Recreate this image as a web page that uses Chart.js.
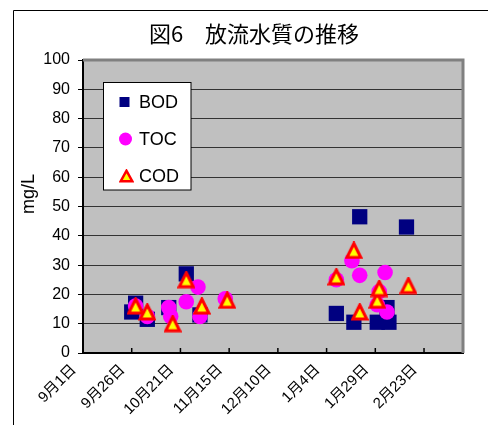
<!DOCTYPE html>
<html>
<head>
<meta charset="utf-8">
<script src="https://cdn.jsdelivr.net/npm/chart.js@4.4.0/dist/chart.umd.min.js"></script>
<style>
  html, body { margin: 0; padding: 0; background: #fff; }
  canvas { display: block; }
</style>
</head>
<body>
<canvas id="chart" width="488" height="425"></canvas>
<script>
// ---- data ----
const titleText = '図6　放流水質の推移';
const yAxisTitle = 'mg/L';
const tickDates  = ['9/1', '9/26', '10/21', '11/15', '12/10', '1/4', '1/29', '2/23'];
const tickLabels = ['9月1日', '9月26日', '10月21日', '11月15日', '12月10日', '1月4日', '1月29日', '2月23日'];
const axisEndDate = '3/15';

const bodDates  = ['9/26', '9/28', '10/4', '10/15', '10/24', '10/31', '1/9', '1/18', '1/21', '1/30', '2/4', '2/5', '2/14'];
const bodValues = [14, 17, 11.5, 15.5, 27, 13, 13.5, 10.5, 46.5, 10.5, 15.5, 10.5, 43];

const tocDates  = ['9/28', '10/4', '10/15', '10/16', '10/24', '10/30', '10/31', '11/13', '1/9', '1/17', '1/21', '1/30', '1/31', '2/3', '2/4'];
const tocValues = [16, 12.5, 15.5, 12.5, 17.5, 22.5, 12.5, 18.5, 25, 31.5, 26.5, 16.5, 21, 27.5, 14];

const codDates  = ['9/28', '10/4', '10/17', '10/24', '11/1', '11/14', '1/9', '1/18', '1/21', '1/30', '1/31', '2/15'];
const codValues = [16, 14, 10, 25, 16, 18, 26, 35, 14, 18, 22, 23];

// ---- helpers ----
// days elapsed since 1 September of the survey season
function dayOf(md) {
  const [m, d] = md.split('/').map(Number);
  const y = m >= 9 ? 2001 : 2002;
  return Math.round((Date.UTC(y, m - 1, d) - Date.UTC(2001, 8, 1)) / 86400000);
}
const toPoints = (dates, vals) => dates.map((d, i) => ({ x: dayOf(d), y: vals[i] }));

function triangleMarker(w, h, lw) {
  const c = document.createElement('canvas');
  c.width = w; c.height = h;
  const g = c.getContext('2d');
  const p = lw / 2 + 0.5;
  g.beginPath();
  g.moveTo(w / 2, p);
  g.lineTo(w - p, h - p);
  g.lineTo(p, h - p);
  g.closePath();
  g.fillStyle = '#ffff00';
  g.fill();
  g.lineJoin = 'miter';
  g.lineWidth = lw;
  g.strokeStyle = '#ff0000';
  g.stroke();
  return c;
}

const LATIN = '"Liberation Sans", Arial, "Noto Sans CJK JP", sans-serif';
const CJK = '"Noto Sans CJK JP", sans-serif';

const codMarker = triangleMarker(18, 18, 3);
const legendMarkers = {
  BOD: (ctx, x, y) => { ctx.fillStyle = '#000080'; ctx.fillRect(x - 5, y - 5, 10, 10); },
  TOC: (ctx, x, y) => { ctx.fillStyle = '#ff00ff'; ctx.beginPath(); ctx.arc(x + 1, y, 6.5, 0, Math.PI * 2); ctx.fill(); },
  COD: (ctx, x, y) => { const t = triangleMarker(15, 14, 2.5); ctx.drawImage(t, x + 2 - 7.5, y - 7); }
};

// ---- decorations: frame, plot fill, borders, title, legend ----
const decor = {
  id: 'decor',
  beforeDraw(chart) {
    const { ctx, chartArea: a } = chart;
    ctx.save();
    ctx.fillStyle = '#fff';
    ctx.fillRect(0, 0, chart.width, chart.height);
    ctx.strokeStyle = '#000';
    ctx.lineWidth = 1;
    ctx.beginPath();
    ctx.moveTo(13.5, chart.height + 2);
    ctx.lineTo(13.5, 10.5);
    ctx.lineTo(chart.width + 2, 10.5);
    ctx.stroke();
    ctx.fillStyle = '#c0c0c0';
    ctx.fillRect(a.left, a.top, a.right - a.left, a.bottom - a.top);
    ctx.restore();
  },
  beforeDatasetsDraw(chart) {
    const { ctx, chartArea: a } = chart;
    const xs = chart.scales.x;
    ctx.save();
    ctx.strokeStyle = '#808080';
    ctx.lineWidth = 3;
    ctx.beginPath();
    ctx.moveTo(a.left, a.top);
    ctx.lineTo(a.right, a.top);
    ctx.lineTo(a.right, a.bottom);
    ctx.stroke();
    ctx.strokeStyle = '#000';
    ctx.lineWidth = 1.5;
    xs.ticks.forEach(t => {
      const px = xs.getPixelForValue(t.value);
      ctx.beginPath();
      ctx.moveTo(px, a.bottom);
      ctx.lineTo(px, a.bottom - 5);
      ctx.stroke();
    });
    ctx.restore();
  },
  afterDraw(chart) {
    const { ctx } = chart;
    ctx.save();
    ctx.fillStyle = '#000';
    ctx.textAlign = 'center';
    ctx.textBaseline = 'middle';
    ctx.font = '22px ' + CJK;
    ctx.fillText(titleText, 254, 34);

    ctx.save();
    ctx.translate(29, 194);
    ctx.rotate(-Math.PI / 2);
    ctx.font = '18px ' + LATIN;
    ctx.fillText(yAxisTitle, 0, 0);
    ctx.restore();

    // legend box
    ctx.fillStyle = '#fff';
    ctx.fillRect(103.5, 82.5, 87.5, 107.5);
    ctx.strokeStyle = '#000';
    ctx.lineWidth = 1;
    ctx.strokeRect(103.5, 82.5, 87.5, 107.5);
    ctx.font = '18px ' + LATIN;
    ctx.textAlign = 'left';
    ['BOD', 'TOC', 'COD'].forEach((name, i) => {
      const ds = chart.data.datasets.find(d => d.label === name);
      const y = 102 + i * 37;
      legendMarkers[name](ctx, 124.5, y);
      ctx.fillStyle = '#000';
      ctx.fillText(ds.label, 139, y + 1);
    });
    ctx.restore();
  }
};

new Chart(document.getElementById('chart'), {
  type: 'scatter',
  data: {
    datasets: [
      {
        label: 'BOD', data: toPoints(bodDates, bodValues), order: 3,
        pointStyle: 'rect', pointRadius: 10.8, pointHoverRadius: 10.8,
        pointBackgroundColor: '#000080', pointBorderWidth: 0
      },
      {
        label: 'TOC', data: toPoints(tocDates, tocValues), order: 2,
        pointStyle: 'circle', pointRadius: 7.8, pointHoverRadius: 7.8,
        pointBackgroundColor: '#ff00ff', pointBorderWidth: 0
      },
      {
        label: 'COD', data: toPoints(codDates, codValues), order: 1,
        pointStyle: codMarker, pointRadius: 9, pointBorderWidth: 0
      }
    ]
  },
  options: {
    responsive: false,
    devicePixelRatio: 1,
    animation: false,
    events: [],
    layout: { padding: { top: 60, right: 25, left: 0, bottom: 0 } },
    plugins: { legend: { display: false }, title: { display: false }, tooltip: { enabled: false } },
    scales: {
      x: {
        type: 'linear',
        min: 0,
        max: dayOf(axisEndDate),
        afterBuildTicks: s => { s.ticks = tickDates.map(d => ({ value: dayOf(d) })); },
        afterFit: s => { s.height = 72; s.paddingLeft = 0; s.paddingRight = 0; },
        grid: { drawOnChartArea: false, drawTicks: false },
        border: { color: '#000', width: 2 },
        ticks: {
          autoSkip: false, minRotation: 45, maxRotation: 45,
          labelOffset: -9, padding: 8, color: '#000',
          font: { family: LATIN, size: 15 },
          callback: (v, i) => tickLabels[i]
        }
      },
      y: {
        min: 0,
        max: 100,
        afterFit: s => { s.width = 83; },
        grid: { color: '#333', lineWidth: 1, tickLength: 5, tickColor: '#000' },
        border: { color: '#000', width: 2 },
        ticks: { stepSize: 10, padding: 8, color: '#000', font: { family: LATIN, size: 16 } }
      }
    }
  },
  plugins: [decor]
});
</script>
</body>
</html>
